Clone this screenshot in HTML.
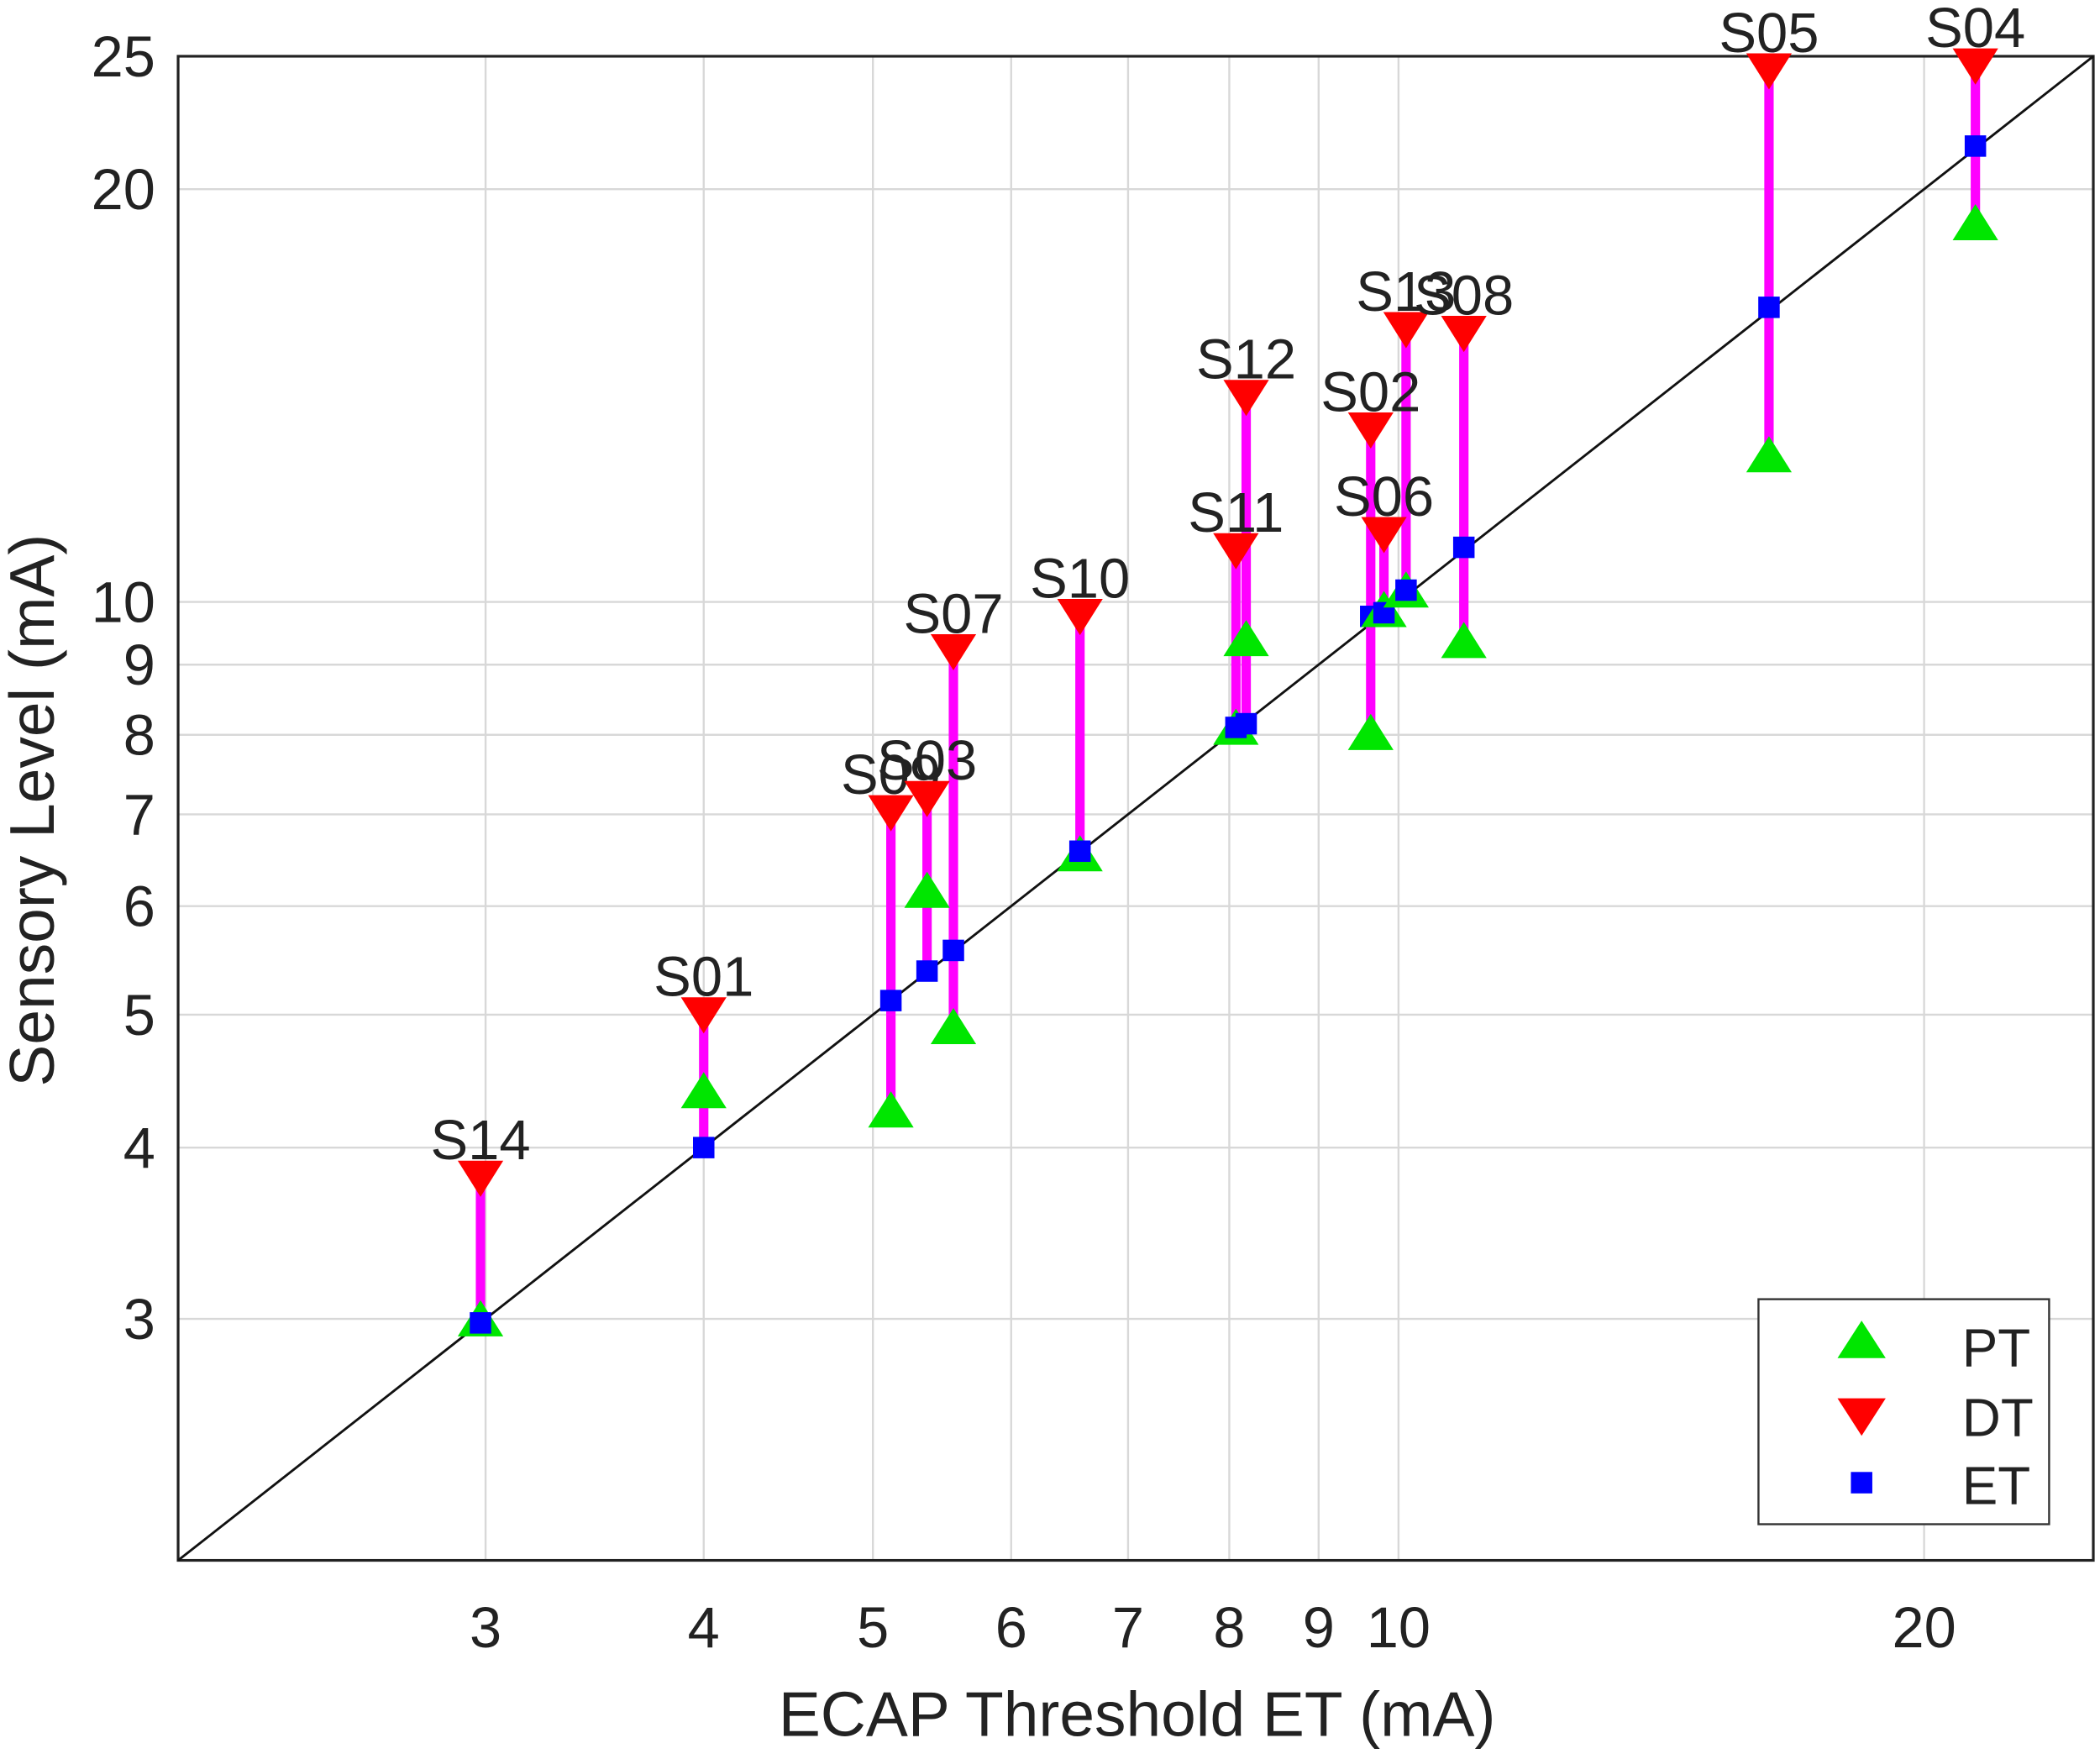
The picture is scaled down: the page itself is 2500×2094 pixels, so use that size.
<!DOCTYPE html>
<html><head><meta charset="utf-8"><style>
html,body{margin:0;padding:0;background:#fff}
svg{display:block}
text{font-family:"Liberation Sans",sans-serif;fill:#222}
</style></head><body>
<svg id="chart" width="2500" height="2094" viewBox="0 0 1568 1313.3" preserveAspectRatio="none" xmlns="http://www.w3.org/2000/svg">
<rect x="0" y="0" width="1568" height="1314" fill="#fff"/>
<g id="grid"></g>
<rect x="133" y="42" width="1430" height="1123" fill="none" stroke="#222" stroke-width="2"/>
<g id="marks"></g>
<text x="849" y="1296" font-size="47" text-anchor="middle">ECAP Threshold ET (mA)</text>
<text transform="translate(40,605) rotate(-90)" font-size="47" text-anchor="middle">Sensory Level (mA)</text>
<g>
<rect x="1313" y="970" width="217" height="168" fill="#fff" stroke="#333" stroke-width="1.5"/>
<path d="M1372,1014 L1390,986 L1408,1014 Z" fill="#00e600"/>
<text x="1465" y="1020" font-size="40">PT</text>
<path d="M1372,1044 L1408,1044 L1390,1072 Z" fill="#ff0000"/>
<text x="1465" y="1072" font-size="40">DT</text>
<rect x="1382" y="1099" width="16" height="16" fill="#0000ff"/>
<text x="1465" y="1123" font-size="40">ET</text>
</g>
</svg>
<script>
const subjects=["S14","S01","S09","S03","S07","S10","S11","S12","S02","S06","S13","S08","S05","S04"];
const etX=[2.98,4.0,5.12,5.37,5.56,6.57,8.07,8.18,9.64,9.81,10.1,10.9,16.3,21.4];
const etY=[2.98,4.0,5.12,5.38,5.57,6.58,8.1,8.15,9.76,9.82,10.2,10.96,16.4,21.5];
const ptY=[3.0,4.4,4.26,6.16,4.9,6.55,8.1,9.4,8.03,9.87,10.2,9.37,12.8,18.9];
const dtY=[3.8,5.0,7.02,7.19,9.2,9.76,10.9,14.1,13.35,11.2,15.8,15.7,24.4,24.6];
const xTicks=[3,4,5,6,7,8,9,10,20];
const xTickLabels=["3","4","5","6","7","8","9","10","20"];
const yTicks=[3,4,5,6,7,8,9,10,20,25];
const yTickLabels=["3","4","5","6","7","8","9","10","20","25"];
const NS="http://www.w3.org/2000/svg";
const L=133,R=1563,T=42,B=1165,MIN=2,MAX=25;
const lr=Math.log10(MAX)-Math.log10(MIN);
function sx(v){return L+(Math.log10(v)-Math.log10(MIN))/lr*(R-L);}
function sy(v){return B-(Math.log10(v)-Math.log10(MIN))/lr*(B-T);}
function mk(tag,attrs,parent){const e=document.createElementNS(NS,tag);for(const k in attrs)e.setAttribute(k,attrs[k]);parent.appendChild(e);return e;}
const grid=document.getElementById('grid'),marks=document.getElementById('marks'),svg=document.getElementById('chart');
xTicks.forEach((v,i)=>{
 const l=mk('line',{x1:sx(v),x2:sx(v),y1:T,y2:B,stroke:'#d8d8d8','stroke-width':1.5},grid);
 
 
 const t=mk('text',{x:sx(v),y:1230,'font-size':43,'text-anchor':'middle'},svg);
 t.textContent=xTickLabels[i];
 
 
});
yTicks.forEach((v,i)=>{
 const l=mk('line',{x1:L,x2:R,y1:sy(v),y2:sy(v),stroke:'#d8d8d8','stroke-width':1.5},grid);
 
 
 const t=mk('text',{x:116,y:sy(v)+15,'font-size':43,'text-anchor':'end'},svg);
 t.textContent=yTickLabels[i];
 
 
});
const d=mk('line',{x1:sx(MIN),y1:sy(MIN),x2:sx(MAX),y2:sy(MAX),stroke:'#111','stroke-width':1.8},marks);


subjects.forEach((s,i)=>{
 const x=sx(etX[i]);
 const ln=mk('line',{x1:x,x2:x,y1:sy(dtY[i]),y2:sy(Math.min(ptY[i],etY[i])),stroke:'#ff00ff','stroke-width':7},marks);
 
 
});
subjects.forEach((s,i)=>{
 const x=sx(etX[i]);
 let y=sy(ptY[i]);
 const p=mk('path',{d:`M${x-17},${y+13} L${x},${y-14} L${x+17},${y+13} Z`,fill:'#00e600'},marks);
 
 
 y=sy(dtY[i]);
 const q=mk('path',{d:`M${x-17},${y-13} L${x+17},${y-13} L${x},${y+14} Z`,fill:'#ff0000'},marks);
 
 
 const r=mk('rect',{x:x-8,y:sy(etY[i])-8,width:16,height:16,fill:'#0000ff'},marks);
 
 
 const t=mk('text',{x:x,y:y-14,'font-size':42,'text-anchor':'middle'},marks);
 t.textContent=s;
 
 
});
</script>
</body></html>
